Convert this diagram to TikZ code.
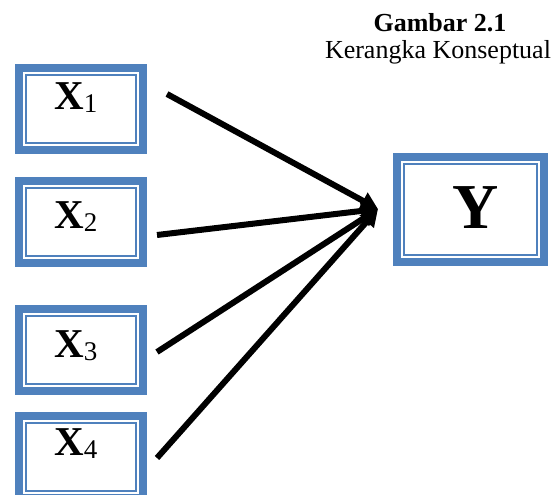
\documentclass[tikz,border=0pt]{standalone}
\usepackage{fontspec}
\setmainfont{Liberation Serif}
\usetikzlibrary{arrows.meta}
\definecolor{boxblue}{RGB}{79,129,189}
\tikzset{
  varbox/.style={draw=boxblue, line width=8pt, fill=white, inner sep=0pt,
    minimum width=124pt, minimum height=82pt,
    path picture={\draw[boxblue, line width=2pt]
      ([shift={(7pt,-7pt)}]path picture bounding box.north west) rectangle
      ([shift={(-7pt,7pt)}]path picture bounding box.south east);}},
  varname/.style={anchor=base west, inner sep=0pt},
  link/.style={line width=6pt, -{Triangle[length=17pt,width=18pt]}}
}
\newcommand{\varlab}[1]{{\fontsize{41}{41}\selectfont\bfseries X}%
  \raisebox{-3pt}{\fontsize{27}{27}\selectfont #1}}
\begin{document}
\begin{tikzpicture}[x=1pt, y=-1pt]
  \useasboundingbox (0,0) rectangle (555,495);
  % caption
  \node[anchor=base, inner sep=0pt, font=\fontsize{26}{30}\selectfont\bfseries] (judul) at (440,32) {Gambar 2.1};
  \node[anchor=base, inner sep=0pt, font=\fontsize{26}{30}\selectfont] (subjudul) at (438,59) {Kerangka Konseptual};
  % independent variables
  \node[varbox] (x1) at (81,109) {};
  \node[varbox] (x2) at (81,222) {};
  \node[varbox] (x3) at (81,350) {};
  \node[varbox] (x4) at (81,457) {};
  \node[varname] (lx1) at (54,110) {\varlab{1}};
  \node[varname] (lx2) at (54,228) {\varlab{2}};
  \node[varname] (lx3) at (54,357) {\varlab{3}};
  \node[varname] (lx4) at (54,455) {\varlab{4}};
  % dependent variable
  \node[varbox, minimum width=147pt, minimum height=105pt] (y) at (470.5,209.5) {};
  \node[varname, font=\fontsize{64}{64}\selectfont\bfseries] (ly) at (452,228) {Y};
  % arrows
  \coordinate (tip) at (378,209);
  \coordinate (s1) at (167,94);
  \coordinate (s2) at (157,235);
  \coordinate (s3) at (157,352);
  \coordinate (s4) at (157,458);
  \foreach \s in {s1,s2,s3,s4}
    \draw[link] (\s) -- (tip);
\end{tikzpicture}
\end{document}
